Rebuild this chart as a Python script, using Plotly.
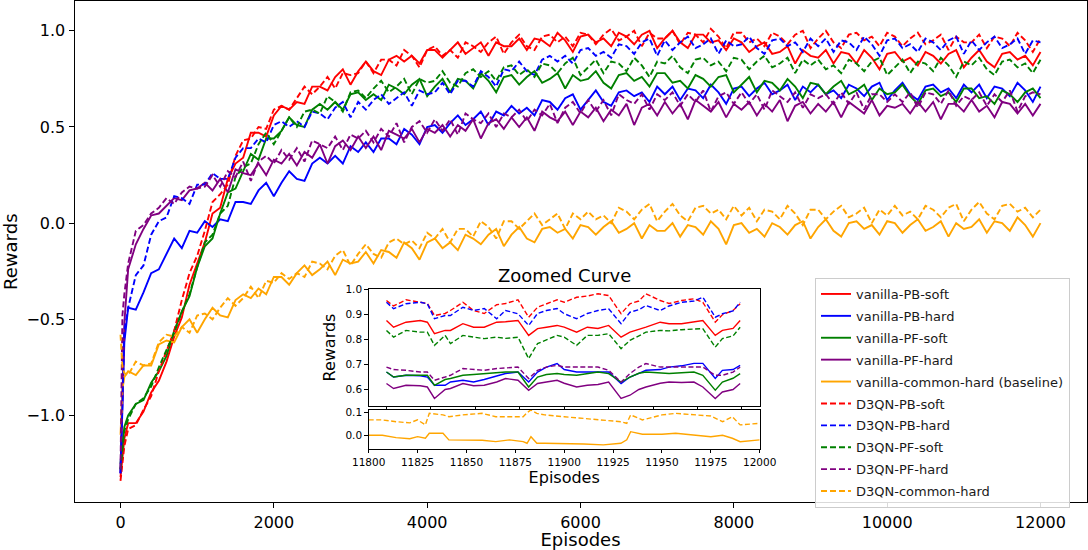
import plotly.graph_objects as go

# ---------------- main chart data ----------------
episodes = [0, 25, 50] + list(range(100, 12001, 100))

vanilla_pb_soft = [
    -1.32, -1.22, -1.12,
    -1.04, -1.04, -0.98, -0.88, -0.82, -0.72, -0.59, -0.49, -0.32, -0.21,
    -0.10, 0.05, 0.08, 0.23, 0.31, 0.34, 0.47, 0.47, 0.45, 0.56,
    0.61, 0.59, 0.63, 0.62, 0.71, 0.71, 0.69, 0.76, 0.80, 0.72,
    0.79, 0.84, 0.79, 0.77, 0.85, 0.87, 0.84, 0.87, 0.83, 0.90,
    0.90, 0.86, 0.90, 0.94, 0.88, 0.91, 0.94, 0.87, 0.94, 0.92,
    0.92, 0.96, 0.90, 0.96, 0.95, 0.92, 0.99, 0.95, 0.89, 0.97,
    0.98, 0.94, 0.96, 0.92, 0.99, 0.97, 0.93, 0.98, 1.00, 0.91,
    0.96, 1.00, 0.94, 0.91, 0.98, 0.98, 0.94, 0.95, 0.90, 0.96,
    0.94, 0.89, 0.92, 0.94, 0.88, 0.89, 0.92, 0.83, 0.90, 0.87,
    0.86, 0.90, 0.83, 0.89, 0.88, 0.83, 0.90, 0.86, 0.80, 0.88,
    0.89, 0.84, 0.86, 0.82, 0.89, 0.87, 0.83, 0.88, 0.90, 0.81,
    0.86, 0.90, 0.84, 0.81, 0.88, 0.89, 0.85, 0.87, 0.82, 0.89,
]
vanilla_pb_hard = [
    -1.30, -0.92, -0.62,
    -0.44, -0.45, -0.36, -0.26, -0.24, -0.16, -0.08, -0.13, -0.04, -0.05,
    0.01, -0.02, 0.02, 0.01, 0.11, 0.11, 0.10, 0.17, 0.21, 0.14,
    0.21, 0.27, 0.23, 0.22, 0.31, 0.34, 0.31, 0.35, 0.31, 0.40,
    0.37, 0.42, 0.37, 0.44, 0.44, 0.41, 0.49, 0.46, 0.41, 0.50,
    0.51, 0.47, 0.52, 0.56, 0.51, 0.54, 0.58, 0.51, 0.58, 0.56,
    0.61, 0.57, 0.60, 0.56, 0.64, 0.63, 0.59, 0.65, 0.67, 0.59,
    0.64, 0.69, 0.63, 0.61, 0.68, 0.69, 0.66, 0.68, 0.63, 0.71,
    0.67, 0.71, 0.64, 0.70, 0.69, 0.65, 0.72, 0.68, 0.62, 0.70,
    0.71, 0.66, 0.70, 0.73, 0.67, 0.69, 0.72, 0.64, 0.71, 0.68,
    0.72, 0.67, 0.69, 0.65, 0.72, 0.70, 0.66, 0.71, 0.73, 0.64,
    0.69, 0.73, 0.67, 0.64, 0.71, 0.72, 0.68, 0.70, 0.65, 0.72,
    0.68, 0.72, 0.65, 0.71, 0.70, 0.66, 0.73, 0.69, 0.63, 0.71,
]
vanilla_pf_soft = [
    -1.25, -1.14, -1.06,
    -1.00, -0.94, -0.92, -0.83, -0.77, -0.69, -0.56, -0.46, -0.38, -0.23,
    -0.12, -0.08, 0.05, 0.16, 0.18, 0.27, 0.36, 0.33, 0.44, 0.44,
    0.48, 0.55, 0.51, 0.50, 0.59, 0.62, 0.59, 0.63, 0.59, 0.67,
    0.68, 0.64, 0.67, 0.64, 0.72, 0.70, 0.67, 0.72, 0.75, 0.66,
    0.71, 0.75, 0.68, 0.75, 0.74, 0.70, 0.78, 0.74, 0.68, 0.76,
    0.77, 0.72, 0.76, 0.79, 0.73, 0.75, 0.78, 0.70, 0.77, 0.74,
    0.75, 0.79, 0.73, 0.70, 0.77, 0.78, 0.74, 0.76, 0.71, 0.78,
    0.78, 0.73, 0.74, 0.70, 0.77, 0.75, 0.71, 0.76, 0.77, 0.68,
    0.72, 0.76, 0.68, 0.74, 0.73, 0.69, 0.75, 0.71, 0.65, 0.73,
    0.72, 0.67, 0.71, 0.74, 0.67, 0.69, 0.72, 0.64, 0.70, 0.67,
    0.68, 0.72, 0.66, 0.62, 0.69, 0.70, 0.66, 0.68, 0.63, 0.70,
    0.70, 0.65, 0.66, 0.62, 0.69, 0.67, 0.63, 0.68, 0.70, 0.65,
]
vanilla_pf_hard = [
    -1.30, -0.82, -0.52,
    -0.24, -0.11, -0.03, 0.04, 0.05, 0.09, 0.13, 0.12, 0.17, 0.18,
    0.21, 0.17, 0.23, 0.16, 0.28, 0.26, 0.25, 0.31, 0.25, 0.33,
    0.31, 0.36, 0.30, 0.37, 0.34, 0.41, 0.31, 0.40, 0.43, 0.38,
    0.45, 0.39, 0.45, 0.38, 0.48, 0.46, 0.44, 0.49, 0.42, 0.49,
    0.47, 0.51, 0.45, 0.51, 0.48, 0.54, 0.44, 0.52, 0.54, 0.49,
    0.55, 0.50, 0.55, 0.48, 0.58, 0.55, 0.53, 0.58, 0.51, 0.58,
    0.55, 0.60, 0.53, 0.59, 0.56, 0.62, 0.51, 0.60, 0.62, 0.56,
    0.63, 0.57, 0.62, 0.54, 0.64, 0.61, 0.58, 0.63, 0.55, 0.62,
    0.59, 0.63, 0.56, 0.62, 0.58, 0.64, 0.53, 0.61, 0.63, 0.57,
    0.62, 0.58, 0.63, 0.55, 0.63, 0.60, 0.57, 0.64, 0.56, 0.61,
    0.60, 0.62, 0.57, 0.63, 0.58, 0.63, 0.54, 0.62, 0.62, 0.58,
    0.64, 0.58, 0.61, 0.55, 0.63, 0.62, 0.57, 0.62, 0.56, 0.62,
]
vanilla_common_hard = [
    -1.10, -0.86, -0.80,
    -0.77, -0.79, -0.74, -0.74, -0.63, -0.61, -0.62, -0.54, -0.50, -0.57,
    -0.50, -0.44, -0.48, -0.49, -0.40, -0.37, -0.39, -0.34, -0.37, -0.28,
    -0.28, -0.32, -0.26, -0.22, -0.27, -0.24, -0.20, -0.27, -0.19, -0.21,
    -0.20, -0.15, -0.21, -0.14, -0.15, -0.18, -0.10, -0.13, -0.19, -0.10,
    -0.08, -0.13, -0.10, -0.14, -0.06, -0.08, -0.11, -0.06, -0.03, -0.12,
    -0.06, -0.02, -0.08, -0.10, -0.03, -0.02, -0.05, -0.03, -0.08, -0.01,
    -0.02, -0.06, -0.02, 0.01, -0.05, -0.03, 0.00, -0.08, -0.01, -0.04,
    -0.04, 0.00, -0.07, -0.01, -0.02, -0.06, 0.01, -0.03, -0.11, -0.01,
    0.00, -0.05, -0.03, -0.07, 0.00, -0.02, -0.06, -0.01, 0.01, -0.08,
    -0.02, 0.02, -0.04, -0.07, 0.00, 0.01, -0.03, -0.01, -0.06, 0.01,
    0.00, -0.05, -0.01, 0.02, -0.04, -0.02, 0.01, -0.07, 0.00, -0.03,
    -0.02, 0.02, -0.05, 0.01, 0.00, -0.04, 0.03, -0.01, -0.07, 0.00,
]
d3qn_pb_soft = [
    -1.34, -1.26, -1.16,
    -1.07, -1.05, -0.97, -0.90, -0.77, -0.67, -0.56, -0.40, -0.26, -0.17,
    -0.04, 0.11, 0.15, 0.20, 0.35, 0.43, 0.44, 0.50, 0.49, 0.59,
    0.61, 0.59, 0.65, 0.71, 0.67, 0.71, 0.76, 0.70, 0.78, 0.77,
    0.78, 0.84, 0.78, 0.85, 0.85, 0.82, 0.90, 0.87, 0.81, 0.90,
    0.92, 0.87, 0.90, 0.86, 0.94, 0.92, 0.89, 0.94, 0.97, 0.88,
    0.94, 0.98, 0.92, 0.90, 0.97, 0.98, 0.94, 0.97, 0.92, 0.99,
    0.98, 0.93, 0.98, 1.01, 0.95, 0.97, 1.00, 0.92, 0.99, 0.96,
    0.96, 1.00, 0.93, 0.99, 0.98, 0.94, 1.01, 0.97, 0.91, 0.99,
    0.99, 0.94, 0.96, 0.92, 0.99, 0.97, 0.93, 0.98, 1.00, 0.91,
    0.96, 1.00, 0.94, 0.91, 0.98, 0.99, 0.95, 0.97, 0.92, 0.99,
    0.97, 0.92, 0.96, 0.99, 0.93, 0.95, 0.98, 0.90, 0.97, 0.94,
    0.94, 0.98, 0.91, 0.97, 0.96, 0.92, 0.99, 0.95, 0.89, 0.96,
]
d3qn_pb_hard = [
    -1.30, -0.85, -0.56,
    -0.44, -0.27, -0.22, -0.06, 0.01, 0.03, 0.14, 0.13, 0.10, 0.20,
    0.20, 0.26, 0.23, 0.23, 0.34, 0.39, 0.39, 0.44, 0.42, 0.51,
    0.53, 0.50, 0.53, 0.50, 0.58, 0.57, 0.54, 0.60, 0.63, 0.55,
    0.63, 0.59, 0.64, 0.67, 0.62, 0.65, 0.68, 0.61, 0.69, 0.67,
    0.68, 0.73, 0.67, 0.74, 0.74, 0.71, 0.79, 0.76, 0.71, 0.80,
    0.79, 0.84, 0.79, 0.77, 0.85, 0.87, 0.84, 0.87, 0.83, 0.90,
    0.91, 0.87, 0.89, 0.86, 0.93, 0.92, 0.88, 0.94, 0.96, 0.87,
    0.95, 0.90, 0.94, 0.97, 0.91, 0.93, 0.96, 0.88, 0.95, 0.92,
    0.93, 0.97, 0.91, 0.88, 0.95, 0.96, 0.92, 0.94, 0.89, 0.96,
    0.92, 0.96, 0.89, 0.95, 0.94, 0.90, 0.97, 0.93, 0.87, 0.95,
    0.96, 0.91, 0.93, 0.89, 0.96, 0.94, 0.90, 0.95, 0.97, 0.88,
    0.95, 0.90, 0.94, 0.97, 0.91, 0.93, 0.96, 0.88, 0.95, 0.94,
]
d3qn_pf_soft = [
    -1.28, -1.18, -1.08,
    -1.02, -0.94, -0.91, -0.85, -0.75, -0.66, -0.57, -0.46, -0.37, -0.23,
    -0.10, -0.06, 0.05, 0.09, 0.24, 0.29, 0.31, 0.41, 0.47, 0.41,
    0.48, 0.55, 0.50, 0.58, 0.59, 0.57, 0.66, 0.63, 0.58, 0.68,
    0.69, 0.65, 0.70, 0.74, 0.68, 0.71, 0.75, 0.67, 0.75, 0.73,
    0.74, 0.79, 0.73, 0.71, 0.78, 0.80, 0.76, 0.79, 0.74, 0.81,
    0.82, 0.77, 0.80, 0.76, 0.83, 0.82, 0.78, 0.83, 0.86, 0.77,
    0.81, 0.85, 0.78, 0.84, 0.83, 0.79, 0.86, 0.82, 0.76, 0.84,
    0.83, 0.87, 0.81, 0.78, 0.85, 0.86, 0.82, 0.84, 0.79, 0.86,
    0.85, 0.80, 0.84, 0.87, 0.81, 0.83, 0.86, 0.78, 0.85, 0.82,
    0.85, 0.80, 0.82, 0.78, 0.85, 0.83, 0.79, 0.84, 0.86, 0.77,
    0.81, 0.85, 0.78, 0.84, 0.83, 0.79, 0.86, 0.82, 0.76, 0.84,
    0.82, 0.86, 0.80, 0.77, 0.84, 0.85, 0.81, 0.83, 0.78, 0.85,
]
d3qn_pf_hard = [
    -1.28, -0.48, -0.37,
    -0.21, -0.04, -0.01, 0.05, 0.08, 0.13, 0.10, 0.16, 0.19, 0.18,
    0.19, 0.25, 0.19, 0.27, 0.24, 0.32, 0.22, 0.32, 0.35, 0.31,
    0.38, 0.33, 0.39, 0.32, 0.43, 0.41, 0.39, 0.45, 0.38, 0.46,
    0.44, 0.48, 0.42, 0.49, 0.45, 0.52, 0.42, 0.50, 0.53, 0.47,
    0.54, 0.48, 0.54, 0.46, 0.57, 0.54, 0.52, 0.57, 0.50, 0.57,
    0.55, 0.59, 0.53, 0.59, 0.56, 0.62, 0.52, 0.60, 0.63, 0.57,
    0.64, 0.58, 0.64, 0.56, 0.67, 0.64, 0.62, 0.67, 0.59, 0.67,
    0.64, 0.68, 0.61, 0.67, 0.63, 0.69, 0.58, 0.66, 0.68, 0.62,
    0.68, 0.62, 0.67, 0.59, 0.69, 0.66, 0.63, 0.68, 0.60, 0.67,
    0.65, 0.67, 0.62, 0.68, 0.62, 0.68, 0.59, 0.67, 0.67, 0.63,
    0.67, 0.63, 0.68, 0.60, 0.68, 0.67, 0.62, 0.69, 0.61, 0.66,
    0.64, 0.68, 0.61, 0.67, 0.63, 0.69, 0.58, 0.66, 0.68, 0.67,
]
d3qn_common_hard = [
    -0.58, -0.75, -0.78,
    -0.79, -0.72, -0.74, -0.73, -0.62, -0.58, -0.59, -0.54, -0.57, -0.48,
    -0.47, -0.50, -0.44, -0.39, -0.43, -0.39, -0.33, -0.39, -0.30, -0.31,
    -0.26, -0.29, -0.26, -0.28, -0.20, -0.21, -0.24, -0.17, -0.14, -0.22,
    -0.16, -0.11, -0.16, -0.18, -0.10, -0.08, -0.11, -0.09, -0.13, -0.05,
    -0.08, -0.03, -0.10, -0.03, -0.03, -0.07, 0.01, -0.02, -0.08, 0.01,
    0.01, -0.03, 0.01, 0.05, -0.01, 0.02, 0.05, -0.03, 0.05, 0.02,
    0.06, 0.02, 0.04, 0.00, 0.08, 0.06, 0.02, 0.07, 0.10, 0.01,
    0.06, 0.10, 0.04, 0.01, 0.08, 0.09, 0.05, 0.07, 0.02, 0.09,
    0.04, 0.08, 0.01, 0.07, 0.06, 0.02, 0.09, 0.05, -0.01, 0.07,
    0.07, 0.02, 0.06, 0.09, 0.03, 0.05, 0.08, 0.00, 0.07, 0.04,
    0.09, 0.04, 0.06, 0.02, 0.09, 0.07, 0.03, 0.08, 0.10, 0.01,
    0.07, 0.11, 0.05, 0.02, 0.09, 0.10, 0.06, 0.08, 0.03, 0.07,
]

# ---------------- zoomed inset data ----------------
zoom_episodes = [
    11800, 11804, 11811, 11819, 11823, 11827, 11833, 11836, 11843, 11849,
    11855, 11862, 11867, 11874, 11880, 11885, 11890, 11896, 11900, 11907,
    11913, 11919, 11925, 11932, 11937, 11942, 11946, 11954, 11959, 11966,
    11973, 11978, 11985, 11989, 11995, 11999,
]
zoom_vanilla_pb_soft = [
    0.877, 0.850, 0.870, 0.877, 0.870, 0.824, 0.837, 0.837, 0.864, 0.850,
    0.850, 0.870, 0.872, 0.877, 0.817, 0.844, 0.850, 0.857, 0.850, 0.830,
    0.850, 0.845, 0.857, 0.810, 0.830, 0.840, 0.850, 0.870, 0.864, 0.864,
    0.870, 0.877, 0.817, 0.837, 0.845, 0.877,
]
zoom_vanilla_pb_hard = [
    0.670, 0.650, 0.657, 0.655, 0.650, 0.617, 0.617, 0.630, 0.637, 0.630,
    0.640, 0.655, 0.664, 0.670, 0.630, 0.670, 0.690, 0.704, 0.680, 0.670,
    0.670, 0.670, 0.670, 0.624, 0.650, 0.665, 0.677, 0.680, 0.690, 0.695,
    0.705, 0.705, 0.644, 0.677, 0.680, 0.697,
]
zoom_vanilla_pf_soft = [
    0.670, 0.650, 0.657, 0.657, 0.657, 0.617, 0.640, 0.644, 0.657, 0.660,
    0.664, 0.667, 0.670, 0.670, 0.610, 0.650, 0.660, 0.664, 0.660, 0.657,
    0.665, 0.670, 0.664, 0.630, 0.650, 0.665, 0.670, 0.667, 0.664, 0.667,
    0.670, 0.657, 0.597, 0.630, 0.645, 0.664,
]
zoom_vanilla_pf_hard = [
    0.624, 0.604, 0.617, 0.615, 0.610, 0.564, 0.600, 0.604, 0.624, 0.615,
    0.617, 0.630, 0.644, 0.637, 0.597, 0.624, 0.630, 0.637, 0.625, 0.610,
    0.617, 0.620, 0.630, 0.564, 0.577, 0.600, 0.610, 0.625, 0.630, 0.628,
    0.630, 0.610, 0.564, 0.590, 0.600, 0.624,
]
zoom_d3qn_pb_soft = [
    0.957, 0.935, 0.960, 0.950, 0.945, 0.897, 0.905, 0.917, 0.950, 0.917,
    0.905, 0.940, 0.945, 0.960, 0.890, 0.930, 0.945, 0.960, 0.950, 0.970,
    0.975, 0.984, 0.977, 0.904, 0.944, 0.955, 0.984, 0.957, 0.945, 0.957,
    0.964, 0.950, 0.870, 0.900, 0.917, 0.944,
]
zoom_d3qn_pb_hard = [
    0.950, 0.924, 0.944, 0.950, 0.944, 0.884, 0.897, 0.897, 0.930, 0.917,
    0.925, 0.884, 0.917, 0.904, 0.857, 0.905, 0.917, 0.925, 0.904, 0.884,
    0.905, 0.917, 0.924, 0.864, 0.910, 0.920, 0.937, 0.917, 0.935, 0.950,
    0.955, 0.970, 0.890, 0.904, 0.915, 0.950,
]
zoom_d3qn_pf_soft = [
    0.837, 0.810, 0.837, 0.830, 0.830, 0.777, 0.817, 0.784, 0.817, 0.810,
    0.804, 0.810, 0.805, 0.810, 0.724, 0.784, 0.800, 0.817, 0.810, 0.777,
    0.817, 0.817, 0.824, 0.764, 0.797, 0.815, 0.830, 0.837, 0.835, 0.840,
    0.844, 0.844, 0.770, 0.804, 0.815, 0.850,
]
zoom_d3qn_pf_hard = [
    0.690, 0.680, 0.677, 0.670, 0.670, 0.637, 0.650, 0.657, 0.684, 0.680,
    0.677, 0.684, 0.686, 0.690, 0.644, 0.677, 0.690, 0.697, 0.690, 0.690,
    0.690, 0.690, 0.677, 0.630, 0.664, 0.690, 0.704, 0.690, 0.690, 0.690,
    0.690, 0.690, 0.657, 0.657, 0.670, 0.690,
]
zoom_common_episodes = [
    11800, 11807, 11814, 11821, 11825, 11829, 11831, 11838, 11841, 11848,
    11858, 11865, 11872, 11879, 11881, 11883, 11886, 11890, 11900, 11910,
    11920, 11929, 11932, 11934, 11940, 11950, 11957, 11966, 11975, 11981,
    11986, 11990, 12000,
]
zoom_vanilla_common_hard = [
    0.000, 0.000, -0.010, -0.015, -0.006, -0.013, 0.009, 0.009, -0.020, -0.020,
    -0.022, -0.028, -0.020, -0.028, -0.035, -0.006, -0.035, -0.035, -0.035, -0.038,
    -0.042, -0.035, -0.020, 0.016, 0.005, 0.005, 0.009, 0.000, -0.006, 0.000,
    -0.013, -0.028, -0.020,
]
zoom_d3qn_common_hard = [
    0.068, 0.068, 0.060, 0.055, 0.068, 0.046, 0.097, 0.090, 0.082, 0.090,
    0.097, 0.082, 0.082, 0.082, 0.100, 0.112, 0.097, 0.090, 0.082, 0.075,
    0.065, 0.060, 0.053, 0.090, 0.068, 0.090, 0.097, 0.090, 0.085, 0.060,
    0.082, 0.046, 0.053,
]

x_ticks = [0, 2000, 4000, 6000, 8000, 10000, 12000]
y_ticks = [-1.0, -0.5, 0.0, 0.5, 1.0]
y_tick_text = ["\u22121.0", "\u22120.5", "0.0", "0.5", "1.0"]
zoom_x_ticks = [11800, 11825, 11850, 11875, 11900, 11925, 11950, 11975, 12000]
zoom_upper_y_ticks = [0.6, 0.7, 0.8, 0.9, 1.0]
zoom_lower_y_ticks = [0.0, 0.1]

# ---------------- figure ----------------
FONT = "DejaVu Sans"
names = [
    "vanilla-PB-soft", "vanilla-PB-hard", "vanilla-PF-soft", "vanilla-PF-hard",
    "vanilla-common-hard (baseline)",
    "D3QN-PB-soft", "D3QN-PB-hard", "D3QN-PF-soft", "D3QN-PF-hard", "D3QN-common-hard",
]
colors = ["red", "blue", "green", "purple", "orange"] * 2
main_series = [vanilla_pb_soft, vanilla_pb_hard, vanilla_pf_soft, vanilla_pf_hard,
               vanilla_common_hard, d3qn_pb_soft, d3qn_pb_hard, d3qn_pf_soft,
               d3qn_pf_hard, d3qn_common_hard]
zoom_series = [zoom_vanilla_pb_soft, zoom_vanilla_pb_hard, zoom_vanilla_pf_soft,
               zoom_vanilla_pf_hard, None, zoom_d3qn_pb_soft, zoom_d3qn_pb_hard,
               zoom_d3qn_pf_soft, zoom_d3qn_pf_hard, None]
DASH = "6px,3px"
ZDASH = "5px,2.5px"

fig = go.Figure()
for i, (name, vals) in enumerate(zip(names, main_series)):
    fig.add_trace(go.Scatter(
        x=episodes, y=vals, mode="lines", name=name, legendgroup=name,
        line=dict(color=colors[i], width=1.9, dash="solid" if i < 5 else DASH),
        xaxis="x", yaxis="y",
    ))
for i, (name, vals) in enumerate(zip(names, zoom_series)):
    if vals is None:
        continue
    fig.add_trace(go.Scatter(
        x=zoom_episodes, y=vals, mode="lines", name=name, legendgroup=name,
        showlegend=False,
        line=dict(color=colors[i], width=1.4, dash="solid" if i < 5 else ZDASH),
        xaxis="x2", yaxis="y2",
    ))
fig.add_trace(go.Scatter(
    x=zoom_common_episodes, y=zoom_vanilla_common_hard, mode="lines",
    name=names[4], legendgroup=names[4], showlegend=False,
    line=dict(color="orange", width=1.4), xaxis="x3", yaxis="y3"))
fig.add_trace(go.Scatter(
    x=zoom_common_episodes, y=zoom_d3qn_common_hard, mode="lines",
    name=names[9], legendgroup=names[9], showlegend=False,
    line=dict(color="orange", width=1.4, dash=ZDASH), xaxis="x3", yaxis="y3"))

W, H = 1088, 550
def px_x(a, b):
    return [a / W, b / W]
def px_y(top, bottom):
    return [1 - bottom / H, 1 - top / H]

axis_common = dict(showgrid=False, zeroline=False, showline=True, linecolor="black",
                   linewidth=1, mirror=True, ticks="outside", tickcolor="black",
                   tickwidth=1, automargin=False)

fig.update_layout(
    width=W, height=H,
    margin=dict(l=0, r=0, t=0, b=0, autoexpand=False),
    paper_bgcolor="white", plot_bgcolor="white",
    font=dict(family=FONT, color="black"),
    xaxis=dict(**axis_common, domain=px_x(74.5, 1086.5), range=[-600, 12600],
               tickvals=x_ticks, ticktext=[str(v) for v in x_ticks], ticklen=5,
               tickfont=dict(size=16), anchor="y",
               title=dict(text="Episodes", font=dict(size=18), standoff=3)),
    yaxis=dict(**axis_common, domain=px_y(1, 502.4), range=[-1.452, 1.155],
               tickvals=y_ticks, ticktext=y_tick_text, ticklen=5,
               tickfont=dict(size=16), anchor="x",
               title=dict(text="Rewards", font=dict(size=18), standoff=4)),
    xaxis2=dict(**axis_common, domain=px_x(368.7, 759.7), range=[11790, 12010],
                tickvals=zoom_x_ticks, showticklabels=False, ticklen=3.5,
                anchor="y2"),
    yaxis2=dict(**axis_common, domain=px_y(289.3, 405.7), range=[0.535, 1.002],
                tickvals=zoom_upper_y_ticks,
                ticktext=["%.1f" % v for v in zoom_upper_y_ticks], ticklen=3.5,
                tickfont=dict(size=10.5), anchor="x2",
                title=dict(text="Rewards", font=dict(size=16), standoff=5)),
    xaxis3=dict(**axis_common, domain=px_x(368.7, 759.7), range=[11800, 12000],
                tickvals=zoom_x_ticks, ticktext=[str(v) for v in zoom_x_ticks],
                ticklen=3.5, tickfont=dict(size=10.5), anchor="y3",
                title=dict(text="Episodes", font=dict(size=16), standoff=2)),
    yaxis3=dict(**axis_common, domain=px_y(409.7, 448.7), range=[-0.059, 0.113],
                tickvals=zoom_lower_y_ticks, ticktext=["0.0", "0.1"], ticklen=3.5,
                tickfont=dict(size=10.5), anchor="x3"),
    legend=dict(x=815 / W, y=1 - 278 / H, xanchor="left", yanchor="top",
                bgcolor="rgba(255,255,255,0.85)", bordercolor="#cccccc", borderwidth=1,
                font=dict(family=FONT, size=13, color="#1a1a1a"),
                traceorder="grouped", tracegroupgap=2),
    annotations=[dict(text="Zoomed Curve", x=564 / W, y=1 - 275 / H, xref="paper",
                      yref="paper", showarrow=False, font=dict(size=18),
                      xanchor="center", yanchor="middle")],
    showlegend=True,
)

fig.write_html(
    "out.html",
    config={"displayModeBar": False},
    post_script="document.body.style.margin='0';document.body.style.overflow='hidden';",
)
